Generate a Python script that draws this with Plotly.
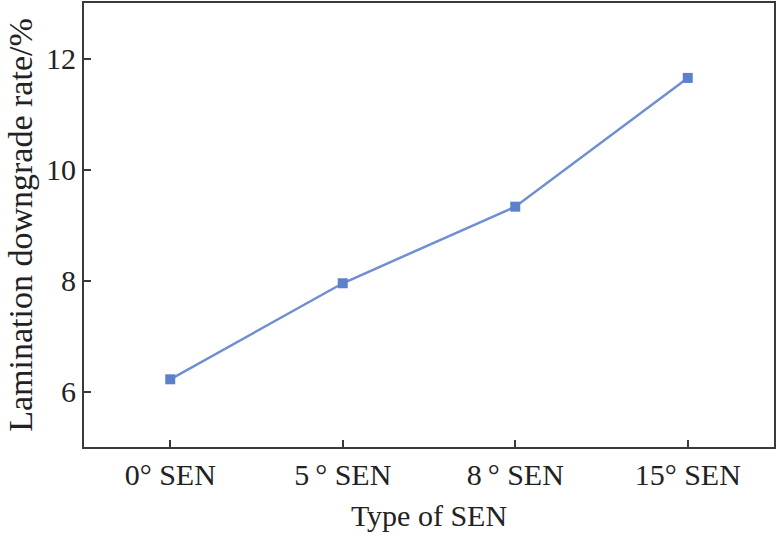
"""Lamination downgrade rate vs type of SEN."""

import plotly.graph_objects as go

# Données
SEN_TYPES = ["0° SEN", "5\u2009° SEN", "8\u2009° SEN", "15° SEN"]
DOWNGRADE_RATE = [6.22, 7.95, 9.33, 11.65]
Y_TICKS = [6, 8, 10, 12]

FONT = "Liberation Serif, Times New Roman, serif"
LINE_COLOR = "#6f8fd2"
MARKER_COLOR = "#5b80cc"
AXIS_COLOR = "#3a3a3a"

fig = go.Figure()

fig.add_trace(go.Scatter(
    x=list(range(len(SEN_TYPES))),
    y=DOWNGRADE_RATE,
    mode="lines+markers",
    line=dict(color=LINE_COLOR, width=2.5),
    marker=dict(symbol="square", size=10, color=MARKER_COLOR),
    showlegend=False,
))

fig.update_layout(
    width=777, height=538,
    margin=dict(l=84, r=3, t=1, b=91),
    plot_bgcolor="white", paper_bgcolor="white",
    font=dict(family=FONT, size=30, color="#222222"),
    xaxis=dict(
        range=[-0.5, 3.5],
        tickmode="array",
        tickvals=list(range(len(SEN_TYPES))),
        ticktext=SEN_TYPES,
        ticks="inside", ticklen=7, tickwidth=1.5, tickcolor=AXIS_COLOR,
        showgrid=False, zeroline=False,
        showline=True, linewidth=2, linecolor=AXIS_COLOR, mirror=True,
        title=dict(text="Type of SEN", standoff=15, font=dict(size=30)),
    ),
    yaxis=dict(
        range=[5, 13],
        tickmode="array",
        tickvals=Y_TICKS,
        ticks="inside", ticklen=7, tickwidth=1.5, tickcolor=AXIS_COLOR,
        showgrid=False, zeroline=False,
        showline=True, linewidth=2, linecolor=AXIS_COLOR, mirror=True,
        title=dict(text="Lamination downgrade rate/%", standoff=3, font=dict(size=34)),
    ),
)

# la page a une marge de 8 px par défaut : on la supprime
fig.write_html(
    "out.html",
    config={"displayModeBar": False},
    post_script="document.body.style.margin='0';",
)
